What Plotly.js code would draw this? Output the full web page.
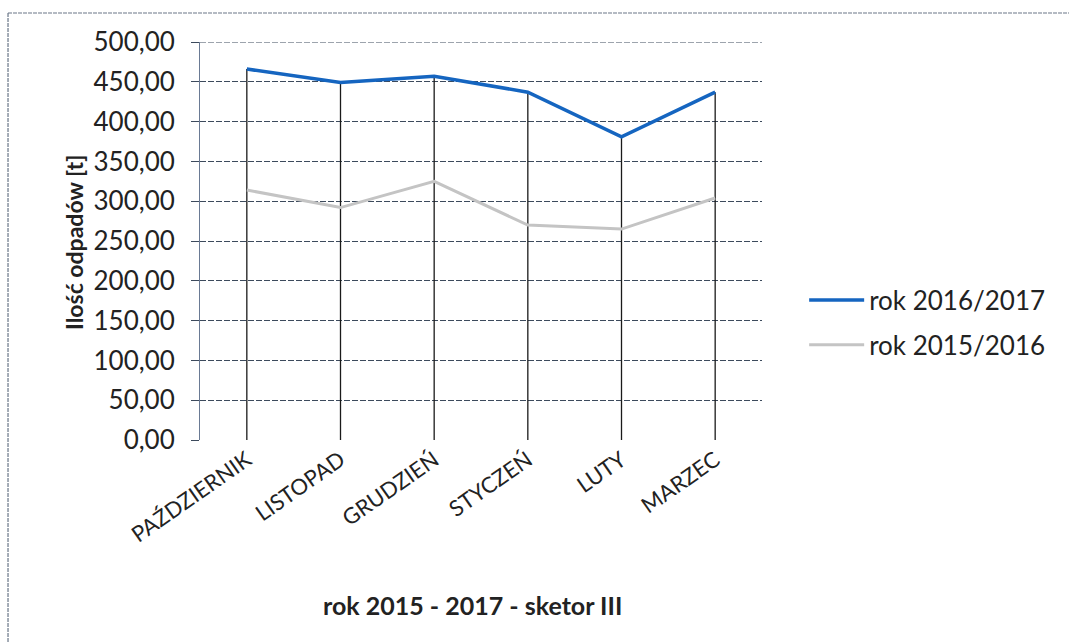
<!DOCTYPE html>
<html>
<head>
<meta charset="utf-8">
<script src="https://cdn.plot.ly/plotly-3.0.1.min.js"></script>
<style>html,body{margin:0;padding:0;background:#fff;}#chart{width:1069px;height:643px;}</style>
</head>
<body>
<div id="chart"></div>
<script>
const months = ["PAŹDZIERNIK", "LISTOPAD", "GRUDZIEŃ", "STYCZEŃ", "LUTY", "MARZEC"];
const rok2016_2017 = [466, 449, 457, 437, 381, 437];
const rok2015_2016 = [314, 292, 325, 270, 265, 304];
const yTickVals = [0, 50, 100, 150, 200, 250, 300, 350, 400, 450, 500];
const yTickText = ["0,00", "50,00", "100,00", "150,00", "200,00", "250,00", "300,00", "350,00", "400,00", "450,00", "500,00"];
const seriesNames = ["rok 2016/2017", "rok 2015/2016"];
const xTitle = "rok 2015 - 2017 - sketor III";
const yTitle = "Ilość odpadów [t]";

// drop lines from the higher series down to the axis
const dropX = [], dropY = [];
months.forEach((m, i) => {
  dropX.push(m, m, null);
  dropY.push(Math.max(rok2016_2017[i], rok2015_2016[i]), 0, null);
});

const font = "Lato, 'Open Sans', sans-serif";
const gridColor = "#3c4a5c";
const data = [
  {x: dropX, y: dropY, type: "scatter", mode: "lines", line: {color: "#1a1a1a", width: 1.3},
   showlegend: false, hoverinfo: "skip"},
  {x: months, y: rok2016_2017, name: seriesNames[0], legendgroup: "a", type: "scatter", mode: "lines",
   line: {color: "#1565c0", width: 3.5}},
  {x: months, y: rok2015_2016, name: seriesNames[1], legendgroup: "b", type: "scatter", mode: "lines",
   line: {color: "#c4c4c4", width: 3}}
];

const yMax = yTickVals[yTickVals.length - 1];
const layout = {
  width: 1069, height: 643,
  margin: {l: 200, r: 307, t: 42, b: 203},
  paper_bgcolor: "#fff", plot_bgcolor: "#fff",
  font: {family: font, color: "#222", size: 24},
  showlegend: true,
  legend: {x: 1.075, y: 0.295, xanchor: "left", yanchor: "middle",
           font: {family: font, size: 26, color: "#222"}, traceorder: "grouped", tracegroupgap: 8,
           itemwidth: 55, bgcolor: "rgba(0,0,0,0)"},
  xaxis: {
    type: "category", range: [-0.5, 5.5], tickangle: -35,
    showgrid: false, zeroline: false, showline: false,
    ticks: "", ticklabelstandoff: 2,
    tickfont: {family: font, size: 22, color: "#222"}, fixedrange: true
  },
  yaxis: {
    range: [0, yMax], tickvals: yTickVals, ticktext: yTickText,
    showgrid: true, gridcolor: gridColor, gridwidth: 1, griddash: "6px,2px",
    zeroline: false, showline: true, linecolor: "#6a7a94", linewidth: 1,
    ticks: "outside", ticklen: 8, tickcolor: gridColor, ticklabelstandoff: 11,
    tickfont: {family: font, size: 26, color: "#222"}, fixedrange: true
  },
  shapes: [
    // top gridline (Plotly omits the gridline at the range edge)
    {type: "line", xref: "paper", yref: "y", x0: 0, x1: 1, y0: yMax, y1: yMax,
     line: {color: gridColor, width: 1, dash: "6px,2px"}},
    {type: "line", xref: "paper", yref: "paper", x0: -0.3416, x1: 1.6, y0: 1.0729, y1: 1.0729,
     line: {color: "#6a7688", width: 1.2, dash: "4px,1px"}},
    {type: "line", xref: "paper", yref: "paper", x0: -0.3416, x1: -0.3416, y0: 1.0729, y1: -0.6,
     line: {color: "#6a7688", width: 1.2, dash: "4px,1px"}}
  ],
  annotations: [
    {text: "<b>" + yTitle + "</b>", xref: "paper", yref: "paper",
     x: (74 - 200) / 562, y: (440 - 243) / 398, xanchor: "center", yanchor: "middle",
     textangle: -90, showarrow: false, font: {family: font, size: 23, color: "#222"}},
    {text: "<b>" + xTitle + "</b>", xref: "paper", yref: "paper",
     x: (472 - 200) / 562, y: (440 - 605) / 398, xanchor: "center", yanchor: "middle",
     showarrow: false, font: {family: font, size: 25, color: "#222"}}
  ]
};

Plotly.newPlot("chart", data, layout, {staticPlot: true, displayModeBar: false});
</script>
</body>
</html>
